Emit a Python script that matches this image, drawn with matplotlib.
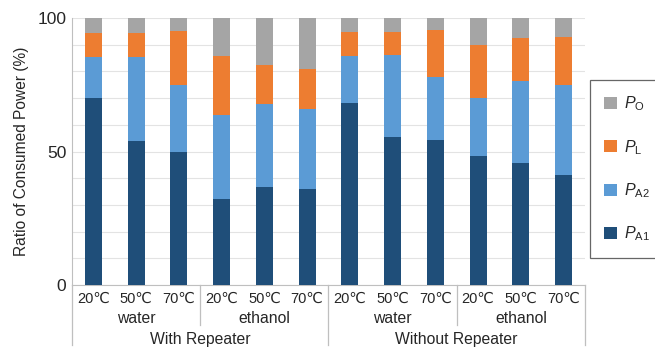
import matplotlib.pyplot as plt
import numpy as np

plt.rcParams['font.family'] = ['Liberation Sans', 'DejaVu Sans']
plt.rcParams['mathtext.fontset'] = 'custom'
plt.rcParams['mathtext.rm'] = 'Liberation Sans'
plt.rcParams['mathtext.it'] = 'Liberation Sans:italic'

temps = ['20℃', '50℃', '70℃'] * 4
liquids = ['water', 'ethanol', 'water', 'ethanol']
setups = ['With Repeater', 'Without Repeater']

# cumulative tops of each stacked segment (%)
a1_top = [70, 54, 50, 32.2, 36.6, 35.9, 68.1, 55.5, 54.2, 48.5, 45.6, 41.2]
a2_top = [85.6, 85.6, 75, 63.6, 67.7, 66.1, 85.9, 86.2, 78.1, 70, 76.5, 75.1]
l_top = [94.3, 94.6, 95.2, 85.9, 82.6, 81.1, 94.7, 94.7, 95.4, 90.1, 92.4, 92.8]

p_a1 = np.array(a1_top)
p_a2 = np.array(a2_top) - p_a1
p_l = np.array(l_top) - np.array(a2_top)
p_o = 100 - np.array(l_top)

colors = {'A1': '#1F4E79', 'A2': '#5B9BD5', 'L': '#ED7D31', 'O': '#A5A5A5'}
text_color = '#262626'
line_color = '#BFBFBF'

fig = plt.figure(figsize=(6.55, 3.48), dpi=100)
ax = fig.add_axes([0.1099, 0.181, 0.7832, 0.767])

x = np.arange(len(temps))
w = 0.4
b1 = ax.bar(x, p_a1, w, color=colors['A1'], label=r'$P_{\mathrm{A1}}$', zorder=3)
b2 = ax.bar(x, p_a2, w, bottom=p_a1, color=colors['A2'], label=r'$P_{\mathrm{A2}}$', zorder=3)
b3 = ax.bar(x, p_l, w, bottom=p_a1 + p_a2, color=colors['L'], label=r'$P_{\mathrm{L}}$', zorder=3)
b4 = ax.bar(x, p_o, w, bottom=p_a1 + p_a2 + p_l, color=colors['O'], label=r'$P_{\mathrm{O}}$', zorder=3)

ax.set_xlim(-0.5, len(temps) - 0.5)
ax.set_ylim(0, 100)
ax.set_yticks([0, 50, 100])
ax.set_yticks(np.arange(0, 101, 10), minor=True)
ax.grid(True, axis='y', which='both', color='#E3E3E3', linewidth=0.8, zorder=0)
ax.tick_params(axis='y', which='both', length=0, pad=4, labelsize=12.5, labelcolor=text_color)
ax.set_xticks([])
for side in ['top', 'right']:
    ax.spines[side].set_visible(False)
ax.spines['left'].set_color(line_color)
ax.spines['bottom'].set_color(line_color)
ax.set_ylabel('Ratio of Consumed Power (%)', fontsize=11.2, color=text_color, labelpad=6)

# multi-level category axis
trans = ax.get_xaxis_transform()
for xi, t in zip(x, temps):
    ax.text(xi, -0.05, t, transform=trans, ha='center', va='center', fontsize=10.5,
            color=text_color, family=['Liberation Sans', 'DejaVu Sans'])
for i, name in enumerate(liquids):
    ax.text(3 * i + 1, -0.127, name, transform=trans, ha='center', va='center',
            fontsize=11.3, color=text_color)
for i, name in enumerate(setups):
    ax.text(6 * i + 2.5, -0.205, name, transform=trans, ha='center', va='center',
            fontsize=11.3, color=text_color)
for sx in [-0.5, 5.5, 11.5]:
    ax.plot([sx, sx], [0, -0.225], transform=trans, color=line_color, lw=0.9, clip_on=False)
for sx in [2.5, 8.5]:
    ax.plot([sx, sx], [0, -0.15], transform=trans, color=line_color, lw=0.9, clip_on=False)

leg = ax.legend(handles=[b4, b3, b2, b1], loc='upper left', bbox_to_anchor=(0.9, 0.77),
                bbox_transform=fig.transFigure, fontsize=11.5, frameon=True, fancybox=False,
                edgecolor='#404040', labelspacing=1.55, handlelength=0.8, handleheight=0.8,
                handletextpad=0.45, borderpad=0.9, borderaxespad=0)
leg.get_frame().set_linewidth(0.9)
for t in leg.get_texts():
    t.set_color(text_color)

fig.savefig('out.png', dpi=100)
